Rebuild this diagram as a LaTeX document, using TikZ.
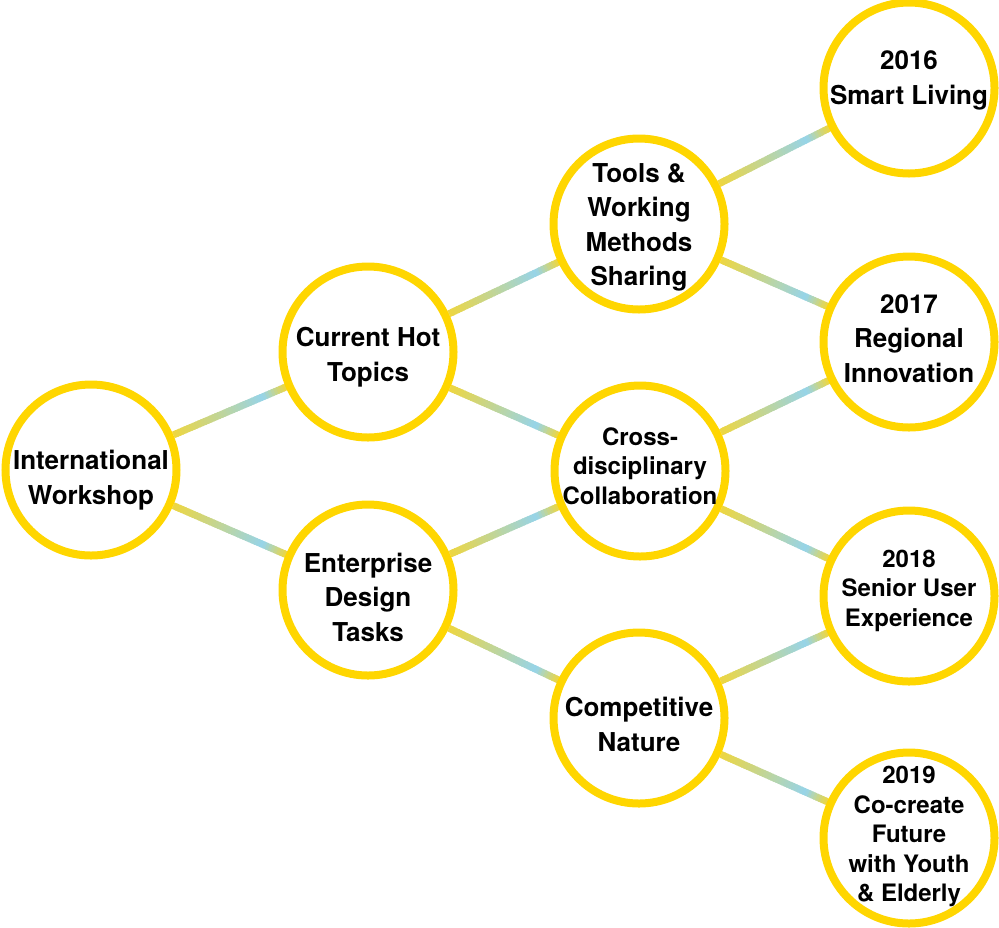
\documentclass[tikz,border=0pt]{standalone}
\usepackage{fontspec}
\setmainfont{TeX Gyre Heros}
\usetikzlibrary{calc,backgrounds}

\definecolor{ringyellow}{RGB}{255,214,0}
\definecolor{linkyellow}{RGB}{238,214,64}
\definecolor{linkblue}{RGB}{150,212,234}

% lines of a topic, dropped by #1 (negative lifts them); zero width so the ring keeps its size
\newcommand\topictext[2][0pt]{\vbox{\vskip#1\hbox to 0pt{\hss\begin{tabular}{@{}c@{}}#2\end{tabular}\hss}}}

% connector from #1 to #2, yellow with a blue glow near the right end
\newcommand\joinline[2]{%
  \path (#1) -- (#2) coordinate[pos=0] (j0) coordinate[pos=1] (j1);
  \foreach \k in {1,...,40}{%
    \pgfmathsetmacro\f{(\k-0.5)/40}%
    \pgfmathsetmacro\pct{\f<0.8 ? 100*\f/0.8 : 100*(1-\f)/0.2}%
    \draw[link, color=linkblue!\pct!linkyellow]
      ($(j0)!{(\k-1)/40}!(j1)$) -- ($(j0)!{(\k+0.5)/40}!(j1)$);
  }%
}

\begin{document}
\begin{tikzpicture}[x=0.5pt, y=-0.5pt,
        topic/.style={circle, draw=ringyellow, line width=4pt, fill=white,
          minimum size=85.5pt, inner sep=0pt,
          font=\bfseries\fontsize{13}{17.25}\selectfont},
        topic small/.style={topic, font=\bfseries\fontsize{12}{14.75}\selectfont},
        link/.style={line width=3.5pt, line cap=butt}]

    \useasboundingbox (0,0) rectangle (999,927);

    \node[topic] (workshop) at (91,470) {\topictext[10pt]{International\\Workshop}};
    \node[topic] (hot) at (368,352) {\topictext[5pt]{Current Hot\\Topics}};
    \node[topic] (enterprise) at (368,590) {\topictext[10pt]{Enterprise\\Design\\Tasks}};
    \node[topic] (tools) at (639,224) {\topictext[3pt]{Tools \&\\Working\\Methods\\Sharing}};
    \node[topic small] (cross) at (640,471) {\topictext[-2pt]{Cross-\\disciplinary\\Collaboration}};
    \node[topic] (compete) at (639,718) {\topictext[9pt]{Competitive\\Nature}};
    \node[topic] (y2016) at (909,88) {\topictext[-8pt]{2016\\Smart Living}};
    \node[topic] (y2017) at (909,342) {\topictext[-1pt]{2017\\Regional\\Innovation}};
    \node[topic small] (y2018) at (909,596) {\topictext[-5pt]{2018\\Senior User\\Experience}};
    \node[topic small] (y2019) at (909,838) {\topictext[-1pt]{2019\\Co-create\\Future\\with Youth\\\& Elderly}};

    \begin{pgfonlayer}{background}
        \joinline{workshop}{hot}
        \joinline{workshop}{enterprise}
        \joinline{hot}{tools}
        \joinline{hot}{cross}
        \joinline{enterprise}{cross}
        \joinline{enterprise}{compete}
        \joinline{tools}{y2016}
        \joinline{tools}{y2017}
        \joinline{cross}{y2017}
        \joinline{cross}{y2018}
        \joinline{compete}{y2018}
        \joinline{compete}{y2019}
    \end{pgfonlayer}
\end{tikzpicture}
\end{document}
